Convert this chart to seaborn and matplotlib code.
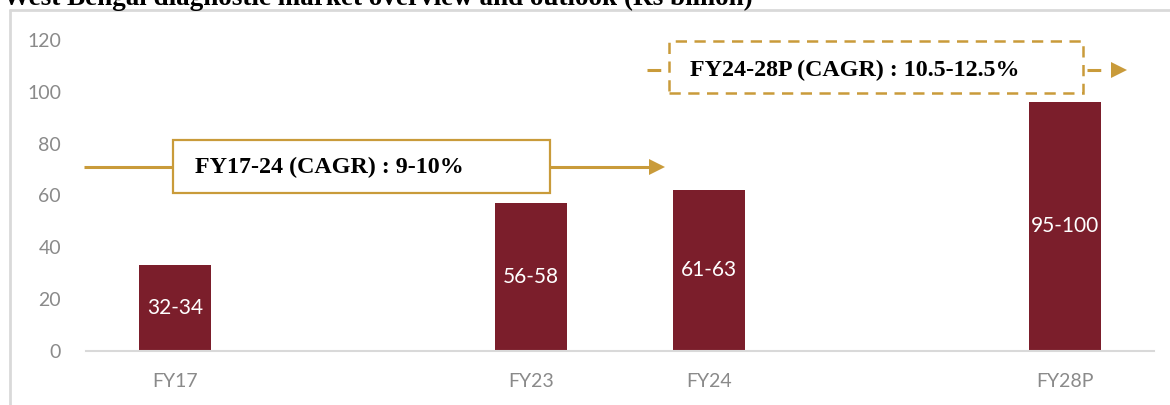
import matplotlib
matplotlib.use("Agg")
import matplotlib.pyplot as plt
from matplotlib.lines import Line2D
from matplotlib.patches import Rectangle
import seaborn as sns
import pandas as pd

# Market size, Rs billion
years = ["FY17", "FY23", "FY24", "FY28P"]
market_size = [33, 57, 62, 96]
size_ranges = ["32-34", "56-58", "61-63", "95-100"]
y_ticks = [0, 20, 40, 60, 80, 100, 120]

title = "West Bengal diagnostic market overview and outlook (Rs billion)"
cagr_hist = "FY17-24 (CAGR) : 9-10%"
cagr_proj = "FY24-28P (CAGR) : 10.5-12.5%"

# spacer slots keep the uneven gaps between the years
order = ["FY17", "gap1", "FY23", "FY24", "gap2", "FY28P"]

BAR = "#7B1E2B"
GOLD = "#C99B3A"
GREY_TXT = "#8a8a8a"
FRAME = "#d9d9d9"

df = pd.DataFrame({"year": years, "size": market_size})

sns.set_theme(style="white")
plt.rcParams["font.family"] = ["Lato", "DejaVu Sans"]

fig = plt.figure(figsize=(11.7, 4.05), dpi=100)
ax = fig.add_axes([86 / 1170, (405 - 350.7) / 405, (1154 - 86) / 1170, (350.7 - 40) / 405])

sns.barplot(data=df, x="year", y="size", order=order, color=BAR, width=0.4,
            saturation=1, ax=ax, linewidth=0)

ax.bar_label(ax.containers[0], labels=size_ranges, label_type="center",
             color="white", fontsize=15)

ax.set_xlim(-0.5, len(order) - 0.5)
ax.set_ylim(0, 120)
pos = [order.index(y) for y in years]
ax.set_xticks(pos)
ax.set_xticklabels(years)
ax.set_yticks(y_ticks)
ax.tick_params(axis="both", length=0, labelsize=14, labelcolor=GREY_TXT)
ax.tick_params(axis="x", pad=16)
ax.tick_params(axis="y", pad=18)
ax.set_xlabel("")
ax.set_ylabel("")
for side in ["left", "right", "top"]:
    ax.spines[side].set_visible(False)
ax.spines["bottom"].set_color(FRAME)
ax.spines["bottom"].set_linewidth(1.5)


def to_x(px):
    # horizontal pixel on the canvas -> category axis units
    return (px - 86) / ((1154 - 86) / len(order)) - 0.5


def to_y(py):
    return (350.7 - py) / ((350.7 - 40) / 120)


serif_bold = dict(family=["Liberation Serif", "DejaVu Serif"], weight="bold",
                  fontsize=17.3, color="black")

# FY17-24 arrow with solid callout box
y1 = to_y(167)
ax.plot([to_x(84), to_x(655)], [y1, y1], color=GOLD, lw=2.2, clip_on=False, zorder=3,
        solid_capstyle="butt")
ax.plot([to_x(657)], [y1], marker=">", ms=11, color=GOLD, clip_on=False, zorder=3,
        markeredgewidth=0)
ax.add_patch(Rectangle((to_x(173), to_y(193)), to_x(550) - to_x(173), to_y(140) - to_y(193),
                       facecolor="white", edgecolor=GOLD, lw=1.6, zorder=4, clip_on=False))
ax.text(to_x(195), y1, cagr_hist, va="center", ha="left", zorder=5, **serif_bold)

# FY24-28P arrow with dashed callout box
y2 = to_y(70)
ax.plot([to_x(647), to_x(1115)], [y2, y2], color=GOLD, lw=2.2, clip_on=False, zorder=3,
        linestyle=(0, (4.5, 3.5)), dash_capstyle="butt")
ax.plot([to_x(1119)], [y2], marker=">", ms=11, color=GOLD, clip_on=False, zorder=3,
        markeredgewidth=0)
ax.add_patch(Rectangle((to_x(669), to_y(93)), to_x(1083) - to_x(669), to_y(41) - to_y(93),
                       facecolor="white", edgecolor=GOLD, lw=1.8, zorder=4, clip_on=False,
                       linestyle=(0, (4.5, 3))))
ax.text(to_x(690), y2, cagr_proj, va="center", ha="left", zorder=5, **serif_bold)

# outer frame and cropped heading
fig.add_artist(Line2D([9.5 / 1170, 1], [(405 - 10) / 405] * 2, color=FRAME, lw=2))
fig.add_artist(Line2D([9.5 / 1170] * 2, [0, (405 - 10) / 405], color=FRAME, lw=2))
fig.text(3 / 1170, 400 / 405, title, ha="left", va="baseline",
         family=["Liberation Serif", "DejaVu Serif"], weight="bold", fontsize=19.5, color="black")

fig.savefig("out.png", dpi=100)
